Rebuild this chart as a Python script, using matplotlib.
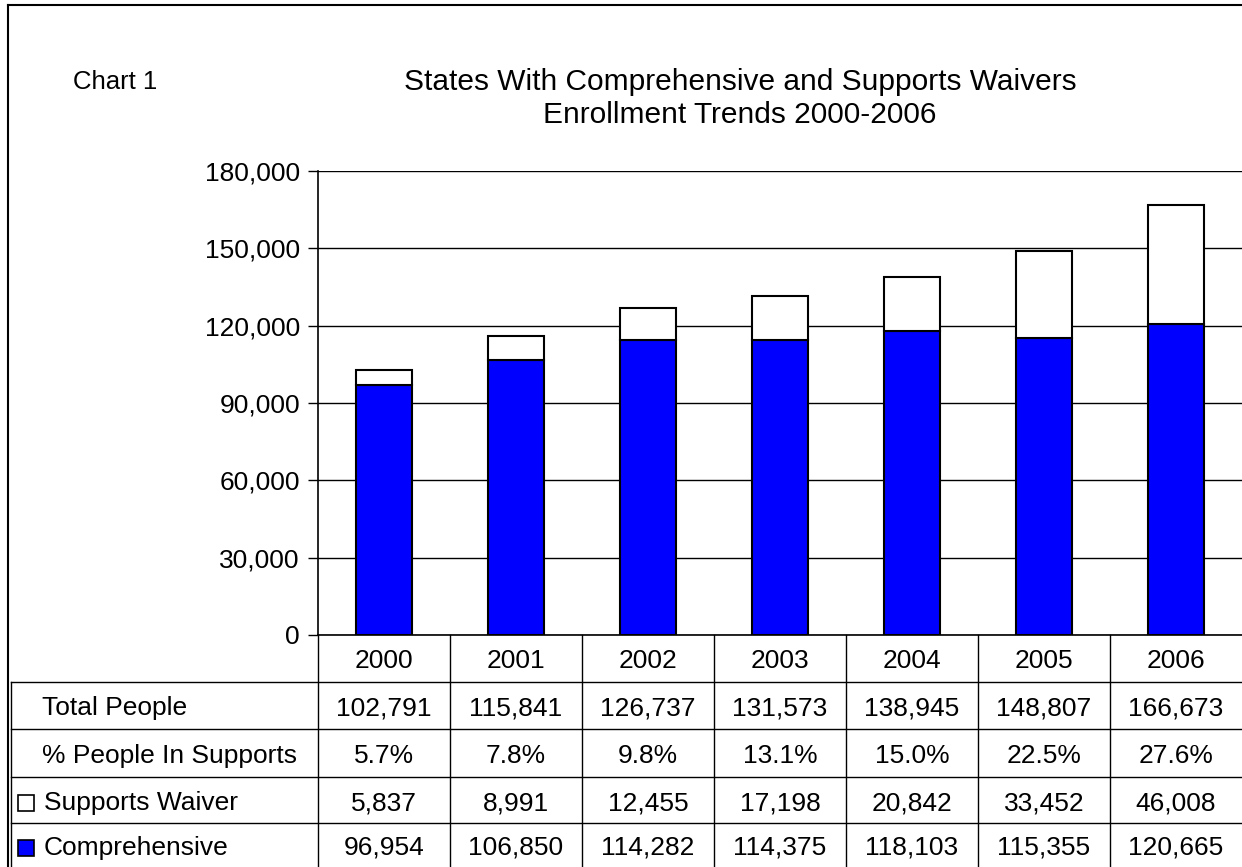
import matplotlib.pyplot as plt
from matplotlib.lines import Line2D
from matplotlib.patches import Rectangle

plt.rcParams['font.family'] = ['Liberation Sans', 'DejaVu Sans']

# Данные по годам
years = ['2000', '2001', '2002', '2003', '2004', '2005', '2006']
comprehensive = [96954, 106850, 114282, 114375, 118103, 115355, 120665]
supports = [5837, 8991, 12455, 17198, 20842, 33452, 46008]
total_people = [102791, 115841, 126737, 131573, 138945, 148807, 166673]
pct_supports = [5.7, 7.8, 9.8, 13.1, 15.0, 22.5, 27.6]

W, H = 1242, 867
fig = plt.figure(figsize=(W / 100, H / 100), dpi=100)


def fx(px):
    return px / W


def fy(py):
    return 1 - py / H


def hline(y, x0, x1, lw=1.0):
    fig.add_artist(Line2D([fx(x0), fx(x1)], [fy(y), fy(y)], color='black', lw=lw))


def vline(x, y0, y1, lw=1.0):
    fig.add_artist(Line2D([fx(x), fx(x)], [fy(y0), fy(y1)], color='black', lw=lw))


# область графика
left, top, bottom, right = 318, 171, 635, 1242
ax = fig.add_axes([fx(left), fy(bottom), fx(right - left), (bottom - top) / H])

x = range(len(years))
ax.bar(x, comprehensive, width=0.42, color='#0000ff', edgecolor='black', linewidth=1.5, zorder=3)
ax.bar(x, supports, width=0.42, bottom=comprehensive, color='white', edgecolor='black',
       linewidth=1.5, zorder=3)

ax.set_xlim(-0.5, len(years) - 0.5)
ax.set_ylim(0, 180000)
ax.set_yticks(range(0, 180001, 30000))
ax.set_yticklabels([f'{v:,}' for v in range(0, 180001, 30000)], fontsize=19)
ax.yaxis.grid(True, color='black', linewidth=1.0, zorder=0)
ax.tick_params(axis='y', length=7, width=1, pad=6)
ax.set_xticks([])
for s in ['top', 'right']:
    ax.spines[s].set_visible(False)
ax.spines['left'].set_linewidth(1.2)
ax.spines['bottom'].set_linewidth(1.2)

# заголовки
fig.text(fx(115), fy(82), 'Chart 1', fontsize=18.5, ha='center', va='center')
fig.text(fx(740), fy(82), 'States With Comprehensive and Supports Waivers', fontsize=21.5,
         ha='center', va='center')
fig.text(fx(740), fy(115), 'Enrollment Trends 2000-2006', fontsize=21.5, ha='center', va='center')

# рамка вокруг всего рисунка
hline(5, 8, W, lw=1.5)
vline(8, 5, H, lw=1.5)

# таблица под графиком
rows = [635, 682, 729, 777, 823, H]
col_w = (right - left) / len(years)
label_left = 11

hline(682, label_left, right)
for r in rows[2:-1]:
    hline(r, label_left, right)
vline(label_left, 682, H)
for i in range(len(years)):
    vline(left + col_w * i, 635, H)

row_text = [
    years,
    [f'{v:,}' for v in total_people],
    [f'{v:.1f}%' for v in pct_supports],
    [f'{v:,}' for v in supports],
    [f'{v:,}' for v in comprehensive],
]
for r, vals in enumerate(row_text):
    yc = (rows[r] + rows[r + 1]) / 2 + 3
    for i, t in enumerate(vals):
        fig.text(fx(left + col_w * (i + 0.5)), fy(yc), t, fontsize=19, ha='center', va='center')

labels = ['Total People', '% People In Supports', 'Supports Waiver', 'Comprehensive']
for r, lab in enumerate(labels):
    yc = (rows[r + 1] + rows[r + 2]) / 2 + 3
    xt = 42 if r < 2 else 44
    fig.text(fx(xt), fy(yc), lab, fontsize=19, ha='left', va='center')

# значки легенды в таблице
for r, fc in [(3, 'white'), (4, '#0000ff')]:
    yc = (rows[r] + rows[r + 1]) / 2 + 3
    fig.add_artist(Rectangle((fx(18), fy(yc + 8)), fx(16), 16 / H, facecolor=fc,
                             edgecolor='black', lw=1.2))

fig.savefig('out.png', dpi=100)
